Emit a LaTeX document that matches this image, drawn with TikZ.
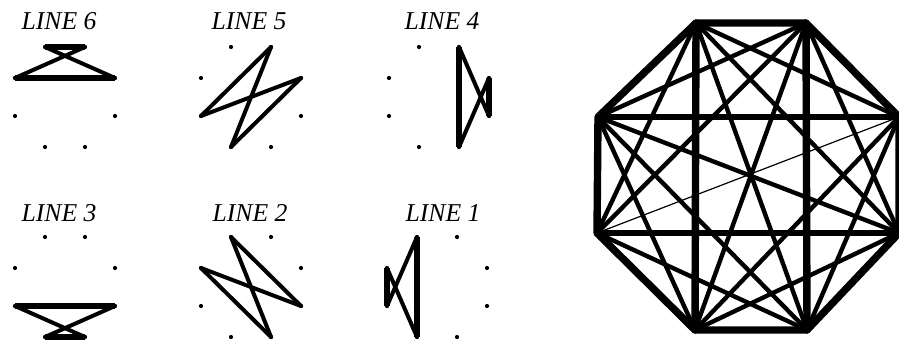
\documentclass[tikz,border=0pt]{standalone}
\usepackage{fontspec}
\setmainfont{Liberation Serif}
\usepackage{tikz}
\newcommand{\octagonat}[3]{%
  \coordinate (#1a) at (#2-20,#3-50);
  \coordinate (#1b) at (#2+20,#3-50);
  \coordinate (#1c) at (#2+50,#3-19);
  \coordinate (#1d) at (#2+50,#3+19);
  \coordinate (#1e) at (#2+20,#3+50);
  \coordinate (#1f) at (#2-20,#3+50);
  \coordinate (#1g) at (#2-50,#3+19);
  \coordinate (#1h) at (#2-50,#3-19);
  \foreach \v in {a,b,c,d,e,f,g,h} \fill (#1\v) circle (2.1);
}
\tikzset{
  labelnode/.style={font=\fontsize{12.85}{15}\selectfont\itshape, anchor=base, inner sep=0pt},
  straightedge/.style={draw=black, line width=2.9pt, line cap=butt},
  slantedge/.style={draw=black, line width=2pt, line cap=round},
  sideedge/.style={draw=black, line width=3.7pt, line cap=round, line join=round},
  crossedge/.style={draw=black, line width=2.8pt, line cap=round},
  chordedge/.style={draw=black, line width=2.2pt, line cap=round},
  thinedge/.style={draw=black, line width=0.6pt},
}
\begin{document}
\begin{tikzpicture}[x=0.5pt, y=-0.5pt]
  \useasboundingbox (0,0) rectangle (899,343);

  \node[labelnode] (t6) at (59,29) {LINE 6};
  \node[labelnode] (t5) at (249,29) {LINE 5};
  \node[labelnode] (t4) at (442,29) {LINE 4};
  \node[labelnode] (t3) at (59,221) {LINE 3};
  \node[labelnode] (t2) at (250,221) {LINE 2};
  \node[labelnode] (t1) at (443,221) {LINE 1};

  \octagonat{l6}{65}{97}
  \octagonat{l5}{251}{97}
  \octagonat{l4}{439}{97}
  \octagonat{l3}{65}{287}
  \octagonat{l2}{251}{287}
  \octagonat{l1}{437}{287}

  \draw[straightedge] (l6a) -- (l6b);
  \draw[slantedge] (l6b) -- (l6h);
  \draw[straightedge] (l6h) -- (l6c);
  \draw[slantedge] (l6c) -- (l6a);

  \draw[slantedge] (l5b) -- (l5g);
  \draw[slantedge] (l5g) -- (l5c);
  \draw[slantedge] (l5c) -- (l5f);
  \draw[slantedge] (l5f) -- (l5b);

  \draw[straightedge] (l4b) -- (l4e);
  \draw[slantedge] (l4e) -- (l4c);
  \draw[straightedge] (l4c) -- (l4d);
  \draw[slantedge] (l4d) -- (l4b);

  \draw[straightedge] (l3g) -- (l3d);
  \draw[slantedge] (l3d) -- (l3f);
  \draw[straightedge] (l3f) -- (l3e);
  \draw[slantedge] (l3e) -- (l3g);

  \draw[slantedge] (l2a) -- (l2d);
  \draw[slantedge] (l2d) -- (l2h);
  \draw[slantedge] (l2h) -- (l2e);
  \draw[slantedge] (l2e) -- (l2a);

  \draw[straightedge] (l1a) -- (l1f);
  \draw[slantedge] (l1f) -- (l1h);
  \draw[straightedge] (l1h) -- (l1g);
  \draw[slantedge] (l1g) -- (l1a);

  \coordinate (oa) at (696,23);
  \coordinate (ob) at (806,23);
  \coordinate (oc) at (899,117);
  \coordinate (od) at (899,233);
  \coordinate (oe) at (807,330);
  \coordinate (of) at (695,330);
  \coordinate (og) at (597,233);
  \coordinate (oh) at (598,117);

  \draw[chordedge] (oa) -- (oc);
  \draw[chordedge] (oa) -- (od);
  \draw[chordedge] (oa) -- (oe);
  \draw[chordedge] (oa) -- (og);
  \draw[chordedge] (ob) -- (od);
  \draw[chordedge] (ob) -- (of);
  \draw[chordedge] (ob) -- (og);
  \draw[chordedge] (ob) -- (oh);
  \draw[chordedge] (oc) -- (oe);
  \draw[chordedge] (oc) -- (of);
  \draw[chordedge] (od) -- (of);
  \draw[chordedge] (od) -- (oh);
  \draw[chordedge] (oe) -- (og);
  \draw[chordedge] (oe) -- (oh);
  \draw[chordedge] (of) -- (oh);
  \draw[thinedge] (og) -- (oc);
  \draw[crossedge] (oh) -- (oc);
  \draw[crossedge] (og) -- (od);
  \draw[sideedge] (oa) -- (of);
  \draw[sideedge] (ob) -- (oe);
  \draw[sideedge] (oa) -- (ob) -- (oc) -- (od) -- (oe) -- (of) -- (og) -- (oh) -- cycle;
\end{tikzpicture}
\end{document}
